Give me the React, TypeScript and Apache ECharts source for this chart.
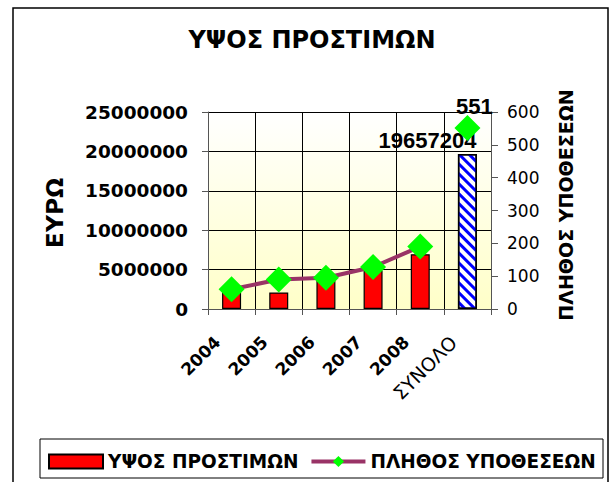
import React, { useEffect, useRef } from 'react';
import * as echarts from 'echarts';

const categories = ['2004', '2005', '2006', '2007', '2008', 'ΣΥΝΟΛΟ'];
const fineValues = [2200000, 2100000, 3600000, 4900000, 6950000];
const fineTotal = 19657204;
const caseValues = [60, 90, 95, 128, 190];
const caseTotal = 551;
const leftTicks = { min: 0, max: 25000000, interval: 5000000 };
const rightTicks = { min: 0, max: 600, interval: 100 };
const seriesNames = ['ΥΨΟΣ ΠΡΟΣΤΙΜΩΝ', 'ΠΛΗΘΟΣ ΥΠΟΘΕΣΕΩΝ'];
const titleText = 'ΥΨΟΣ ΠΡΟΣΤΙΜΩΝ';
const leftAxisName = 'ΕΥΡΩ';
const rightAxisName = 'ΠΛΗΘΟΣ ΥΠΟΘΕΣΕΩΝ';

const DV = '"DejaVu Sans", sans-serif';
const AR = '"Liberation Sans", Arial, sans-serif';

export default function App() {
  const ref = useRef<HTMLDivElement>(null);
  useEffect(() => {
    document.body.style.margin = '0';
    if (!ref.current) return;
    const chart = echarts.init(ref.current, undefined, { renderer: 'svg' });
    const option: any = {
      animation: false,
      backgroundColor: '#ffffff',
      graphic: [
        {
          type: 'rect',
          shape: { x: 13, y: 8, width: 595, height: 500 },
          style: { fill: 'none', stroke: '#000', lineWidth: 1.5 },
          silent: true,
        },
        {
          type: 'rect',
          shape: { x: 40, y: 439, width: 563, height: 39 },
          style: { fill: 'none', stroke: '#000', lineWidth: 1 },
          silent: true,
        },
        {
          type: 'text',
          x: 312,
          y: 40,
          style: {
            text: titleText,
            fontFamily: 'DejaVu Sans',
            fontWeight: 'bold',
            fontSize: 24,
            fill: '#000',
            align: 'center',
            verticalAlign: 'middle',
            textAlign: 'center',
            textVerticalAlign: 'middle',
          },
        },
        {
          type: 'text',
          x: 55,
          y: 213,
          rotation: Math.PI / 2,
          style: {
            text: leftAxisName,
            fontFamily: 'DejaVu Sans',
            fontWeight: 'bold',
            fontSize: 23.5,
            fill: '#000',
            align: 'center',
            verticalAlign: 'middle',
            textAlign: 'center',
            textVerticalAlign: 'middle',
          },
        },
        {
          type: 'text',
          x: 566,
          y: 205,
          rotation: Math.PI / 2,
          style: {
            text: rightAxisName,
            fontFamily: 'DejaVu Sans',
            fontWeight: 'bold',
            fontSize: 19,
            fill: '#000',
            align: 'center',
            verticalAlign: 'middle',
            textAlign: 'center',
            textVerticalAlign: 'middle',
          },
        },
      ],
      legend: {
        left: 48,
        top: 452,
        width: 560,
        padding: 0,
        itemWidth: 54,
        itemHeight: 14,
        itemGap: 11,
        textStyle: { fontFamily: DV, fontWeight: 'bold', fontSize: 18.5, color: '#000' },
        data: [
          { name: seriesNames[0], icon: 'rect' },
          { name: seriesNames[1], lineStyle: { width: 4, color: '#993366' } },
        ],
      },
      grid: {
        left: 208,
        right: 122,
        top: 112,
        bottom: 173,
        show: true,
        borderWidth: 0,
        backgroundColor: {
          type: 'linear',
          x: 0,
          y: 0,
          x2: 0,
          y2: 1,
          colorStops: [
            { offset: 0, color: '#ffffff' },
            { offset: 1, color: '#ffffc8' },
          ],
        },
      },
      xAxis: {
        type: 'category',
        boundaryGap: true,
        data: categories.map((c, i) =>
          i === categories.length - 1
            ? { value: c, textStyle: { fontWeight: 'normal', fontSize: 19, color: '#000' } }
            : c
        ),
        axisLine: { show: true, lineStyle: { color: '#555', width: 1 } },
        axisTick: { show: true, length: 6, lineStyle: { color: '#555' } },
        splitLine: { show: true, lineStyle: { color: '#000', width: 1 } },
        axisLabel: {
          rotate: 45,
          interval: 0,
          margin: 16,
          padding: [0, 20, 0, 0],
          fontFamily: DV,
          fontWeight: 'bold',
          fontSize: 17,
          color: '#000',
        },
      },
      yAxis: [
        {
          type: 'value',
          position: 'left',
          min: leftTicks.min,
          max: leftTicks.max,
          interval: leftTicks.interval,
          axisLine: { show: true, lineStyle: { color: '#555', width: 1 } },
          axisTick: { show: true, length: 6, lineStyle: { color: '#555' } },
          splitLine: { show: true, lineStyle: { color: '#000', width: 1 } },
          axisLabel: {
            margin: 20,
            fontFamily: DV,
            fontWeight: 'bold',
            fontSize: 18.5,
            color: '#000',
            formatter: (v: number) => String(v),
          },
        },
        {
          type: 'value',
          position: 'right',
          min: rightTicks.min,
          max: rightTicks.max,
          interval: rightTicks.interval,
          axisLine: { show: true, lineStyle: { color: '#555', width: 1 } },
          axisTick: { show: true, length: 7, lineStyle: { color: '#555' } },
          splitLine: { show: false },
          axisLabel: { margin: 16, fontFamily: DV, fontSize: 17, color: '#000' },
        },
      ],
      series: [
        {
          name: seriesNames[0],
          type: 'bar',
          yAxisIndex: 0,
          barWidth: 19,
          itemStyle: { color: '#ff0000', borderColor: '#000', borderWidth: 1.2 },
          data: [
            ...fineValues,
            {
              value: fineTotal,
              itemStyle: {
                color: '#ffffff',
                borderColor: '#000',
                borderWidth: 1.5,
                decal: {
                  symbol: 'rect',
                  symbolSize: 1,
                  color: '#0000ff',
                  dashArrayX: [1, 0],
                  dashArrayY: [3, 4],
                  rotation: Math.PI / 4,
                },
              },
              label: {
                show: true,
                position: 'top',
                offset: [-40, 2],
                formatter: String(fineTotal),
                fontFamily: AR,
                fontWeight: 'bold',
                fontSize: 22,
                color: '#000',
              },
            },
          ],
        },
        {
          name: seriesNames[1],
          type: 'line',
          yAxisIndex: 1,
          z: 3,
          symbol: 'diamond',
          symbolSize: 26,
          itemStyle: { color: '#00ff00', borderWidth: 0 },
          lineStyle: { color: '#993366', width: 4 },
          data: [...caseValues, '-'],
        },
        {
          name: 'ΣΥΝΟΛΟ ΥΠΟΘΕΣΕΩΝ',
          type: 'line',
          yAxisIndex: 1,
          z: 3,
          symbol: 'diamond',
          symbolSize: 26,
          itemStyle: { color: '#00ff00', borderWidth: 0 },
          lineStyle: { color: '#993366', width: 4 },
          data: [...caseValues.map(() => '-'), caseTotal],
          label: {
            show: true,
            position: 'top',
            distance: 0,
            offset: [7, 2],
            formatter: String(caseTotal),
            fontFamily: AR,
            fontWeight: 'bold',
            fontSize: 22,
            color: '#000',
          },
        },
      ],
    };
    chart.setOption(option);
    return () => chart.dispose();
  }, []);
  return (
    <div
      ref={ref}
      style={{ width: 613, height: 482, position: 'absolute', left: 0, top: 0 }}
    />
  );
}
